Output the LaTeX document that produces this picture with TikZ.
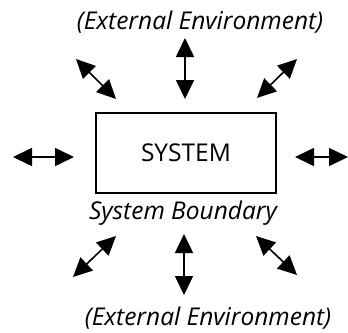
\documentclass[tikz,border=0pt]{standalone}
\usepackage{fontspec}
\setmainfont{Open Sans}
\usetikzlibrary{arrows.meta}
\begin{document}
\begin{tikzpicture}[x=1pt,y=-1pt,
  dbl/.style={line width=1.6pt,{Triangle[length=19pt,width=18pt]}-{Triangle[length=19pt,width=18pt]}},
  lbl/.style={font=\fontsize{24.5}{28}\selectfont\itshape,inner sep=0pt}]
\useasboundingbox (0,0) rectangle (348,332);
\node[lbl] (topenv) at (200,22) {(External Environment)};
\node[draw,line width=1.1pt,minimum width=180pt,minimum height=80pt,inner sep=0pt,
      font=\fontsize{24.5}{28}\selectfont] (sys) at (186,153) {SYSTEM};
\node[lbl] (bound) at (183,213) {System Boundary};
\node[lbl] (botenv) at (208,318) {(External Environment)};
% top arrows
\coordinate (a1) at (76,59); \coordinate (a2) at (116,99);
\coordinate (b1) at (185,38); \coordinate (b2) at (185,99);
\coordinate (c1) at (297,59); \coordinate (c2) at (257,98);
% side arrows
\coordinate (d1) at (13,157); \coordinate (d2) at (74,157);
\coordinate (e1) at (295,157); \coordinate (e2) at (348,157);
% bottom arrows
\coordinate (f1) at (116,236); \coordinate (f2) at (73,277);
\coordinate (g1) at (184,234); \coordinate (g2) at (184,295);
\coordinate (h1) at (256,236); \coordinate (h2) at (297,275);
\foreach \p/\q in {a1/a2,b1/b2,c1/c2,d1/d2,e1/e2,f1/f2,g1/g2,h1/h2}
  \draw[dbl] (\p) -- (\q);
\end{tikzpicture}
\end{document}
